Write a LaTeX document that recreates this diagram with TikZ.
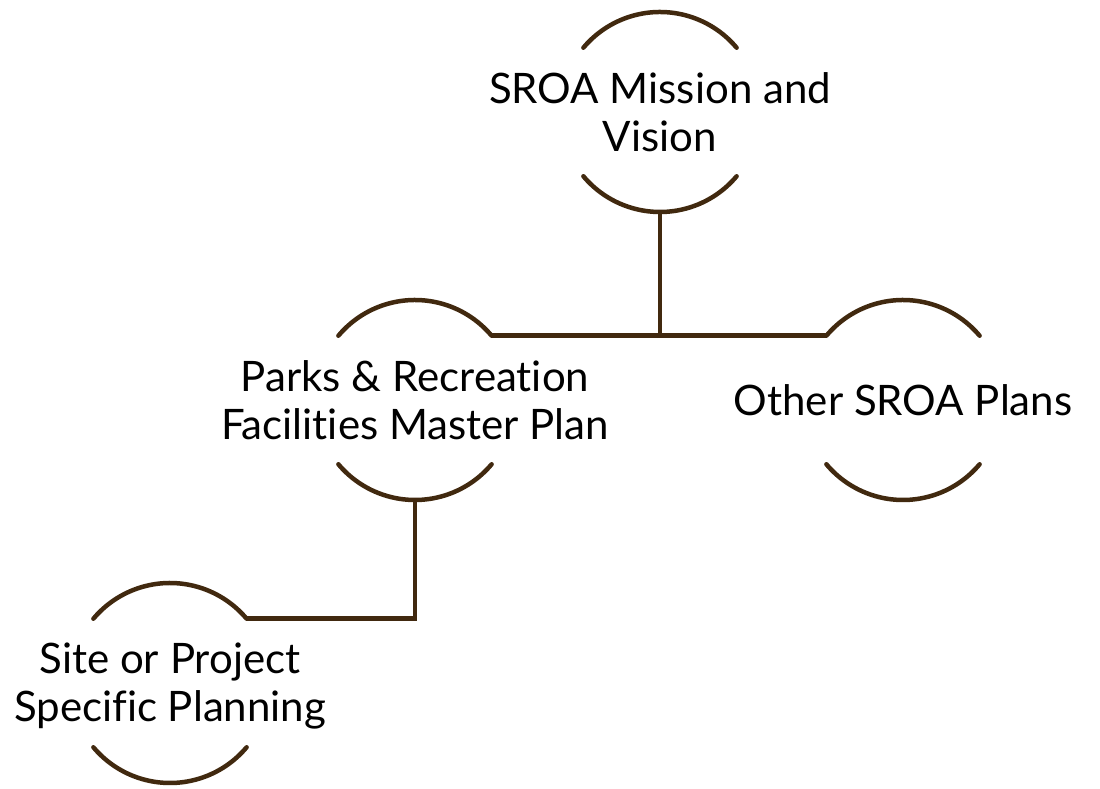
\documentclass[tikz,border=0pt]{standalone}
\usepackage{fontspec}
\setmainfont{Lato}[Ligatures=NoCommon]
\definecolor{planbrown}{HTML}{41290F}
\begin{document}
\begin{tikzpicture}[x=1pt,y=1pt,inner sep=0pt,outer sep=0pt,
planbox/.style={circle,minimum size=200pt},
plantext/.style={align=center,font=\fontsize{42}{48}\selectfont},
link/.style={draw=planbrown,line width=4.5pt,line cap=round}]
\useasboundingbox (0,0) rectangle (1100,789);
\node[planbox] (mission) at (660,677) {};
\node[planbox] (parks) at (415,389) {};
\node[planbox] (other) at (903,389) {};
\node[planbox] (site) at (170,106) {};
\node[plantext] (mission-text) at (mission) {SROA Mission and\\Vision};
\node[plantext] (parks-text) at (parks) {Parks \& Recreation\\Facilities Master Plan};
\node[plantext] (other-text) at (other) {Other SROA Plans};
\node[plantext] (site-text) at ([yshift=-3pt]site) {Site or Project\\Specific Planning};
% arcs above and below each text
\foreach \n in {mission,parks,other,site} {
  \draw[link] (\n.40) arc[start angle=40,end angle=140,radius=100pt];
  \draw[link] (\n.220) arc[start angle=220,end angle=320,radius=100pt];
}
\draw[link,line cap=butt] (parks.40) -- (other.140);
\draw[link,line cap=butt] (mission.south) -- (mission.south |- parks.40);
\draw[link,line cap=butt] (parks.south) -- (parks.south |- site.40) -- (site.40);
\end{tikzpicture}
\end{document}
